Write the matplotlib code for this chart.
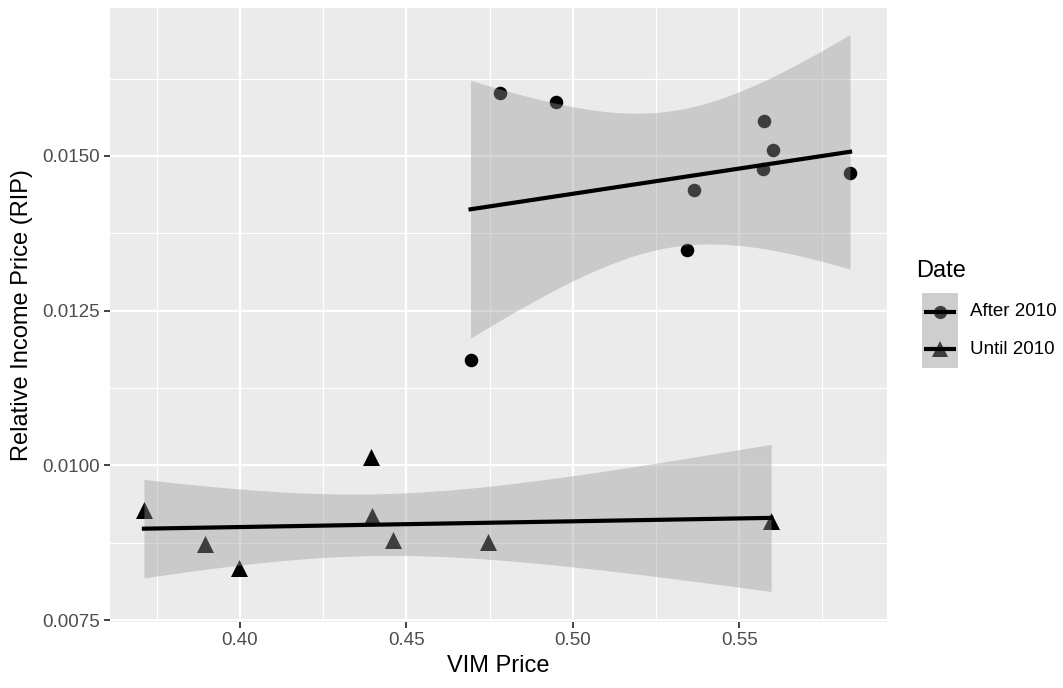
import matplotlib
matplotlib.use("Agg")
import matplotlib.pyplot as plt
import numpy as np
from matplotlib.patches import Rectangle
from matplotlib.ticker import MultipleLocator, FormatStrFormatter

plt.rcParams['font.family'] = ['Liberation Sans', 'DejaVu Sans']

# After 2010 (circles)
after_vim = [0.4693, 0.4783, 0.4951, 0.5344, 0.5365, 0.5575, 0.5572, 0.5602, 0.5833]
after_rip = [0.01171, 0.01602, 0.01587, 0.01348, 0.01445, 0.01557, 0.01479, 0.01510, 0.01472]

# Until 2010 (triangles)
until_vim = [0.3712, 0.3895, 0.3997, 0.4393, 0.4396, 0.4459, 0.4744, 0.5596]
until_rip = [0.00928, 0.00873, 0.00834, 0.01014, 0.00918, 0.00880, 0.00876, 0.00910]

legend_labels = ['After 2010', 'Until 2010']
legend_markers = ['o', '^']

# two-sided 95% t quantiles for df = n - 2
T_QUANT = {6: 2.446912, 7: 2.364624}

PANEL = '#EBEBEB'
RIBBON = '#999999'


def lm_band(x, y, n_grid=80):
    x = np.asarray(x)
    y = np.asarray(y)
    n = len(x)
    b1, b0 = np.polyfit(x, y, 1)
    resid = y - (b0 + b1 * x)
    s = np.sqrt(np.sum(resid ** 2) / (n - 2))
    sxx = np.sum((x - x.mean()) ** 2)
    xs = np.linspace(x.min(), x.max(), n_grid)
    fit = b0 + b1 * xs
    se = s * np.sqrt(1.0 / n + (xs - x.mean()) ** 2 / sxx)
    t = T_QUANT[n - 2]
    return xs, fit, fit - t * se, fit + t * se


fig = plt.figure(figsize=(10.63, 6.88), dpi=100)
ax = fig.add_axes([110 / 1063, 1 - 622 / 688, 777 / 1063, 614 / 688])
ax.set_facecolor(PANEL)
for sp in ax.spines.values():
    sp.set_visible(False)

ax.set_xlim(0.361, 0.5944)
ax.set_ylim(0.00747, 0.01739)
ax.xaxis.set_major_locator(MultipleLocator(0.05))
ax.xaxis.set_minor_locator(MultipleLocator(0.025))
ax.yaxis.set_major_locator(MultipleLocator(0.0025))
ax.yaxis.set_minor_locator(MultipleLocator(0.00125))
ax.xaxis.set_major_formatter(FormatStrFormatter('%.2f'))
ax.yaxis.set_major_formatter(FormatStrFormatter('%.4f'))
ax.grid(which='major', color='white', linewidth=1.6, zorder=0)
ax.grid(which='minor', color='white', linewidth=0.8, zorder=0)
ax.set_axisbelow(True)
ax.tick_params(which='major', length=4.5, width=1.3, color='#333333',
               labelsize=13.5, labelcolor='#4D4D4D', pad=3)
ax.tick_params(which='minor', length=0)

ax.scatter(after_vim, after_rip, s=95, marker='o', color='black', linewidths=0, zorder=2)
ax.scatter(until_vim, until_rip, s=150, marker='^', color='black', linewidths=0, zorder=2)

for xv, yv in [(after_vim, after_rip), (until_vim, until_rip)]:
    xs, fit, lo, hi = lm_band(xv, yv)
    ax.fill_between(xs, lo, hi, color=RIBBON, alpha=0.4, linewidth=0, zorder=3)
    ax.plot(xs, fit, color='black', linewidth=3, zorder=4)

ax.set_xlabel('VIM Price', fontsize=17, labelpad=4)
ax.set_ylabel('Relative Income Price (RIP)', fontsize=17, labelpad=6)

# legend drawn in its own pixel-space axes, ggplot style
lax = fig.add_axes([905 / 1063, 1 - 380 / 688, 158 / 1063, 130 / 688])
lax.set_xlim(905, 1063)
lax.set_ylim(380, 250)
lax.axis('off')
lax.text(916, 271, 'Date', fontsize=17, va='center', ha='left')
key_w, key_h, key_x, key_y = 36, 37.5, 922, 293
for i, (lab, mk) in enumerate(zip(legend_labels, legend_markers)):
    y0 = key_y + i * key_h
    yc = y0 + key_h / 2
    lax.add_patch(Rectangle((key_x, y0), key_w, key_h, facecolor='#F2F2F2',
                            edgecolor='none', zorder=1))
    lax.plot([key_x + 2, key_x + key_w - 2], [yc, yc], color='black',
             linewidth=3, solid_capstyle='butt', zorder=3)
    lax.plot([key_x + key_w / 2], [yc], marker=mk, color='black',
             markersize=9.5 if mk == 'o' else 11.5, markeredgewidth=0, zorder=2)
    lax.add_patch(Rectangle((key_x, y0), key_w, key_h, facecolor=RIBBON,
                            alpha=0.4, edgecolor='none', zorder=2.5))
    lax.text(key_x + key_w + 12, yc, lab, fontsize=13.5, va='center', ha='left')

fig.savefig('out.png', dpi=100)
